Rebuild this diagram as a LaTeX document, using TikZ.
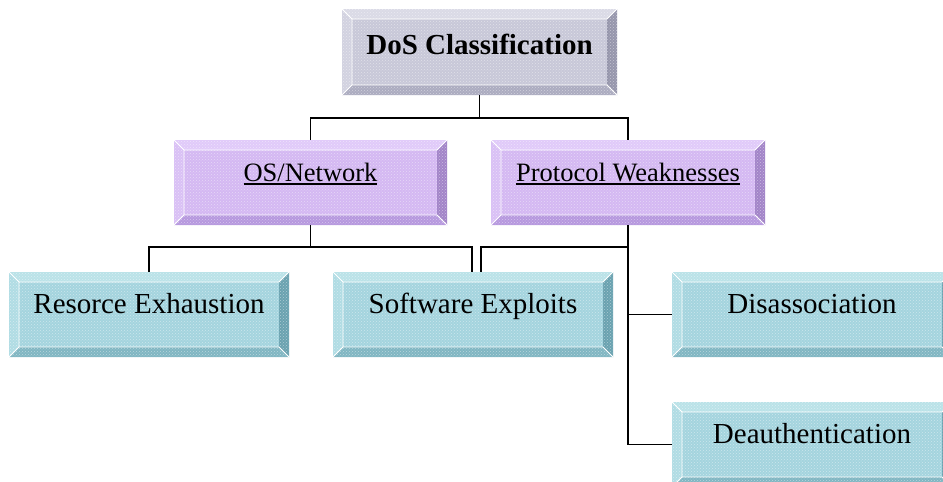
\documentclass[tikz,border=0pt]{standalone}
\usepackage{fontspec}
\setmainfont{Liberation Serif}
\usetikzlibrary{patterns}

% bevel palettes: face, top, left, right, bottom
\definecolor{gryface}{RGB}{200,200,216}
\definecolor{grytop}{RGB}{218,218,230}
\definecolor{gryleft}{RGB}{210,210,224}
\definecolor{gryright}{RGB}{150,150,172}
\definecolor{grybottom}{RGB}{172,172,192}
\definecolor{purface}{RGB}{212,184,242}
\definecolor{purtop}{RGB}{224,202,249}
\definecolor{purleft}{RGB}{217,192,245}
\definecolor{purright}{RGB}{162,132,200}
\definecolor{purbottom}{RGB}{182,152,222}
\definecolor{tealface}{RGB}{164,212,222}
\definecolor{tealtop}{RGB}{186,226,232}
\definecolor{tealleft}{RGB}{176,220,228}
\definecolor{tealright}{RGB}{106,162,176}
\definecolor{tealbottom}{RGB}{128,182,194}

\newcommand\undl[1]{\setbox0\hbox{#1}\rlap{\rule[-3.5pt]{\wd0}{1.3pt}}\box0}

\tikzset{
  bevelbox/.style={
    shape=rectangle, inner sep=0pt, minimum width=280pt, minimum height=85pt,
    fill=#1face,
    path picture={
      \def\bw{10pt}
      \coordinate (bnw) at (path picture bounding box.north west);
      \coordinate (bne) at (path picture bounding box.north east);
      \coordinate (bsw) at (path picture bounding box.south west);
      \coordinate (bse) at (path picture bounding box.south east);
      \coordinate (inw) at ([xshift=\bw,yshift=-\bw]bnw);
      \coordinate (ine) at ([xshift=-\bw,yshift=-\bw]bne);
      \coordinate (isw) at ([xshift=\bw,yshift=\bw]bsw);
      \coordinate (ise) at ([xshift=-\bw,yshift=\bw]bse);
      \fill[#1top] (bnw) -- (bne) -- (ine) -- (inw) -- cycle;
      \fill[#1left] (bnw) -- (inw) -- (isw) -- (bsw) -- cycle;
      \fill[#1right] (bne) -- (bse) -- (ise) -- (ine) -- cycle;
      \fill[#1bottom] (bsw) -- (bse) -- (ise) -- (isw) -- cycle;
      % grainy stone finish
      \fill[pattern=crosshatch dots, pattern color=white, opacity=0.45]
        (bnw) rectangle (bse);
      \draw[white, line width=0.8pt] (bnw) -- (inw) -- (ine) -- (bne)
        (inw) -- (isw) -- (bsw) (isw) -- (ise) -- (bse);
    }
  },
  toplabel/.style={font=\fontsize{29}{30}\selectfont\bfseries,
    text height=22pt, text depth=18pt},
  midlabel/.style={font=\fontsize{26.5}{28}\selectfont,
    text height=20pt, text depth=23pt},
  lowlabel/.style={font=\fontsize{29}{30}\selectfont,
    text height=20pt, text depth=22pt},
  link/.style={draw=black, line width=1.5pt}
}

\begin{document}
\begin{tikzpicture}[x=1pt, y=-1pt]
  \useasboundingbox (0,0) rectangle (943,482);
  \clip (0,0) rectangle (943,482);
  \fill[white] (0,0) rectangle (943,482);

  % tree
  \node[bevelbox=gry, toplabel, minimum width=275pt, minimum height=86pt]
    (dos) at (479.5,52) {DoS Classification};

  \node[bevelbox=pur, midlabel, minimum width=273pt] (os) at (310.5,182.5)
    {\undl{OS/Network}};
  \node[bevelbox=pur, midlabel, minimum width=274pt] (proto) at (628,182.5)
    {\undl{Protocol Weaknesses}};

  \node[bevelbox=teal, lowlabel] (res) at (149,314.5) {Resorce Exhaustion};
  \node[bevelbox=teal, lowlabel] (soft) at (473,314.5) {Software Exploits};
  \node[bevelbox=teal, lowlabel] (dis) at (812,314.5) {Disassociation};
  \node[bevelbox=teal, lowlabel] (deauth) at (812,444.5) {Deauthentication};

  % connectors
  \draw[link] (dos.south) -- ++(0,23) -| (os.north);
  \draw[link] (dos.south) -- ++(0,23) -| (proto.north);

  \draw[link] (os.south) -- ++(0,22) -| (res.north);
  \draw[link] (os.south) -- ++(0,22) -| ([xshift=-1pt]soft.north);

  \draw[link] (proto.south) -- ++(0,22) -| ([xshift=8pt]soft.north);
  \draw[link] (proto.south) |- (dis.west);
  \draw[link] (proto.south) |- (deauth.west);
\end{tikzpicture}
\end{document}
